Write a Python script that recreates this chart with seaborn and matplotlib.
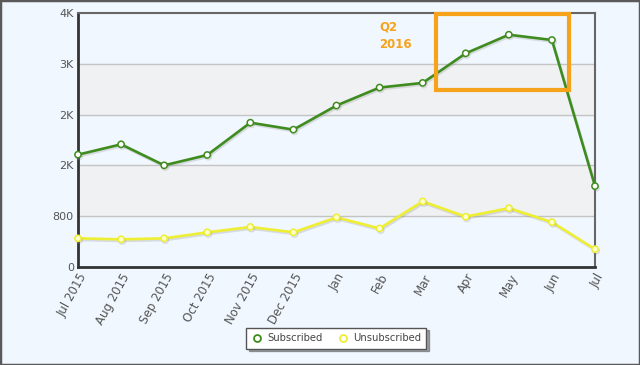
import matplotlib
matplotlib.use("Agg")
import matplotlib.pyplot as plt
import matplotlib.patheffects as pe
from matplotlib.lines import Line2D
from matplotlib.patches import Rectangle
import pandas as pd
import seaborn as sns

months = ["Jul 2015", "Aug 2015", "Sep 2015", "Oct 2015", "Nov 2015", "Dec 2015",
          "Jan", "Feb", "Mar", "Apr", "May", "Jun", "Jul"]
subscribed = [1769, 1932, 1601, 1764, 2273, 2163, 2543, 2826, 2899, 3365, 3658, 3575, 1274]
unsubscribed = [451, 436, 451, 546, 630, 546, 781, 607, 1033, 792, 927, 707, 281]
y_ticks = [0, 800, 1600, 2400, 3200, 4000]
y_labels = ["0", "800", "2K", "2K", "3K", "4K"]

df = pd.DataFrame({"pos": range(len(months)), "month": months,
                   "Subscribed": subscribed, "Unsubscribed": unsubscribed})

sns.set_style("white")
plt.rcParams["font.family"] = ["DejaVu Sans"]

bg = "#F0F7FE"
green = "#3F8C1E"
yellow = "#EEEE33"

fig = plt.figure(figsize=(6.4, 3.65), dpi=100, facecolor=bg)
ax = fig.add_axes([78 / 640, 1 - 267 / 365, (595 - 78) / 640, (267 - 13) / 365])
ax.set_facecolor(bg)

# alternating bands + grid
for lo, hi in [(800, 1600), (2400, 3200)]:
    ax.axhspan(lo, hi, color="#EFF1F3", zorder=0)
for t in y_ticks[1:-1]:
    ax.axhline(t, color="#C4C4C4", lw=1, zorder=1)

shadow = [pe.SimpleLineShadow(offset=(0.8, -1.2), shadow_color="#888888", alpha=0.25), pe.Normal()]

sns.lineplot(data=df, x="pos", y="Subscribed", ax=ax, color=green, lw=1.9,
             marker="o", markersize=4.5, markerfacecolor="white", markeredgecolor=green,
             markeredgewidth=1.1, clip_on=False, zorder=4, path_effects=shadow)
sns.lineplot(data=df, x="pos", y="Unsubscribed", ax=ax, color=yellow, lw=1.9,
             marker="o", markersize=4.5, markerfacecolor="#FFFFCC", markeredgecolor=yellow,
             markeredgewidth=1.1, clip_on=False, zorder=4, path_effects=shadow)

ax.set_xlim(0, len(months) - 1)
ax.set_ylim(0, 4000)
ax.set_xticks(df["pos"])
ax.set_xticklabels(months, rotation=61, ha="right", rotation_mode="anchor",
                   fontsize=8.5, color="#555555")
ax.set_yticks(y_ticks)
ax.set_yticklabels(y_labels, fontsize=8, color="#555555")
ax.tick_params(axis="both", length=0, pad=3)
ax.set_xlabel("")
ax.set_ylabel("")

for side in ["left", "bottom"]:
    ax.spines[side].set_color("#333333")
    ax.spines[side].set_linewidth(2)
for side in ["top", "right"]:
    ax.spines[side].set_color("#666666")
    ax.spines[side].set_linewidth(1.5)

# Q2 2016 highlight
ax.add_patch(Rectangle((8.31, 2784), 11.4 - 8.31, 3983 - 2784, fill=False,
                       edgecolor="#F7A21B", lw=3, zorder=6, clip_on=False))
ax.text(7.0, 3640, "Q2\n2016", color="#F7A21B", fontsize=8.5, fontweight="bold",
        ha="left", va="center", linespacing=1.5)

handles = [Line2D([], [], ls="none", marker="o", markersize=5, markerfacecolor="white",
                  markeredgecolor=green, markeredgewidth=1.3),
           Line2D([], [], ls="none", marker="o", markersize=5, markerfacecolor="white",
                  markeredgecolor=yellow, markeredgewidth=1.3)]
leg = fig.legend(handles, ["Subscribed", "Unsubscribed"], loc="center",
                 bbox_to_anchor=(336 / 640, 1 - 338 / 365), ncol=2, fontsize=7.2,
                 frameon=True, fancybox=False, shadow=True, handletextpad=0.4,
                 columnspacing=1.4, borderpad=0.55, handlelength=1.2)
leg.get_frame().set_edgecolor("#555555")
leg.get_frame().set_facecolor("white")
for t in leg.get_texts():
    t.set_color("#444444")

fig.patches.append(Rectangle((0, 0), 1, 1, transform=fig.transFigure, fill=False,
                             edgecolor="#5A5A5A", lw=2.5))

fig.savefig("out.png", dpi=100, facecolor=bg)
